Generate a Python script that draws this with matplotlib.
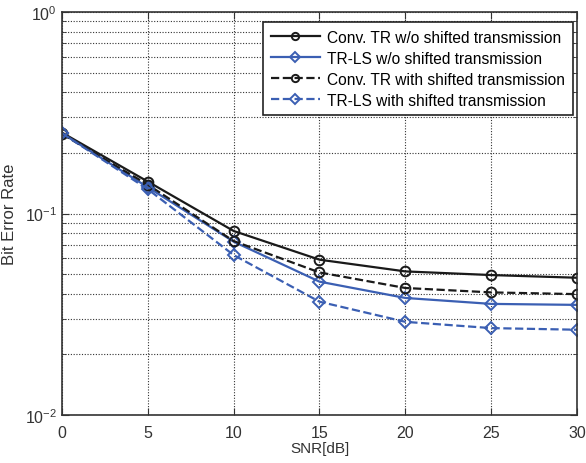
import matplotlib
matplotlib.use("Agg")
import matplotlib.pyplot as plt
from matplotlib.ticker import LogLocator, FixedLocator

plt.rcParams['font.family'] = ['Liberation Sans', 'DejaVu Sans']
plt.rcParams['mathtext.fontset'] = 'custom'
plt.rcParams['mathtext.rm'] = 'Liberation Sans'
plt.rcParams['mathtext.it'] = 'Liberation Sans'

snr = [0, 5, 10, 15, 20, 25, 30]
conv_wo = [0.252, 0.144, 0.0819, 0.0590, 0.0516, 0.0495, 0.0480]
trls_wo = [0.250, 0.135, 0.0725, 0.0459, 0.0381, 0.0356, 0.0352]
conv_with = [0.248, 0.139, 0.0730, 0.0510, 0.0427, 0.0406, 0.0398]
trls_with = [0.250, 0.132, 0.0622, 0.0365, 0.0290, 0.0270, 0.0265]
labels = ["Conv. TR w/o shifted transmission",
          "TR-LS w/o shifted transmission",
          "Conv. TR with shifted transmission",
          "TR-LS with shifted transmission"]

blue = '#3b5fb3'
black = '#1a1a1a'
fig = plt.figure(figsize=(5.86, 4.64), dpi=100)
ax = fig.add_axes([0.1058, 0.1034, 0.8788, 0.8686])

ms = 7
ax.plot(snr, conv_wo, '-', color=black, marker='o', mfc='none', mew=1.4, ms=ms, lw=1.6, label=labels[0])
ax.plot(snr, trls_wo, '-', color=blue, marker='D', mfc='none', mew=1.4, ms=6.5, lw=1.6, label=labels[1])
ax.plot(snr, conv_with, '--', color=black, marker='o', mfc='none', mew=1.4, ms=ms, lw=1.6, label=labels[2])
ax.plot(snr, trls_with, '--', color=blue, marker='D', mfc='none', mew=1.4, ms=6.5, lw=1.6, label=labels[3])

ax.set_yscale('log')
ax.set_xlim(0, 30)
ax.set_ylim(1e-2, 1)
ax.xaxis.set_major_locator(FixedLocator(snr))
ax.yaxis.set_major_locator(LogLocator(base=10, numticks=5))
ax.yaxis.set_minor_locator(LogLocator(base=10, subs=range(2, 10), numticks=20))
ax.grid(True, which='both', linestyle=(0, (1, 1.5)), color='#333333', linewidth=0.8)
ax.tick_params(which='both', direction='in', top=True, right=True, labelsize=11.5, colors='#333333')
ax.tick_params(which='major', length=5)
ax.tick_params(which='minor', length=3)
ax.tick_params(axis='x', which='major', pad=7)
for s in ax.spines.values():
    s.set_linewidth(1.2)
    s.set_color('#333333')
ax.set_xlabel('SNR[dB]', fontsize=11, color='#333333', labelpad=1)
ax.set_ylabel('Bit Error Rate', fontsize=12, color='#333333', labelpad=6)

leg = ax.legend(loc='upper right', bbox_to_anchor=(0.9925, 0.975), fontsize=11.2, frameon=True,
                fancybox=False, edgecolor='#222222', handlelength=3.2, borderpad=0.5,
                labelspacing=0.38, handletextpad=0.45, borderaxespad=0, framealpha=1,
                markerscale=0.75)
leg.get_frame().set_linewidth(1.2)

fig.savefig('out.png', dpi=100)
